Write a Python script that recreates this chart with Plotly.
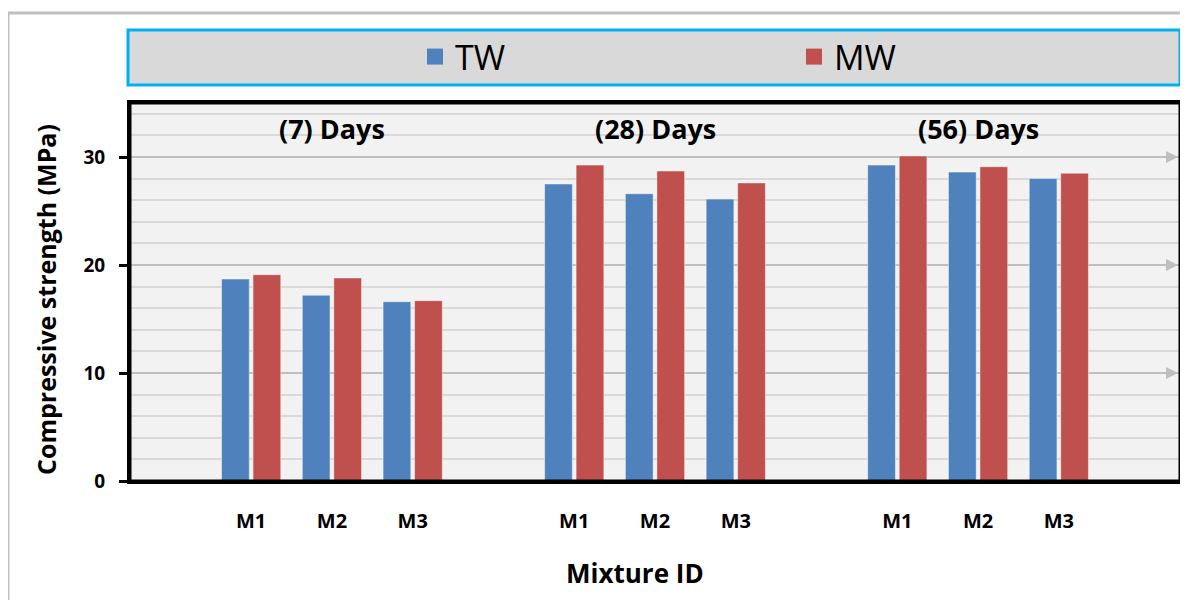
import plotly.graph_objects as go

# ---- data ----
day_groups = ["(7) Days", "(28) Days", "(56) Days"]
mixtures = ["M1", "M2", "M3"]
tw_values = [18.7, 17.2, 16.6, 27.5, 26.6, 26.1, 29.25, 28.6, 28.0]
mw_values = [19.1, 18.8, 16.7, 29.25, 28.7, 27.6, 30.1, 29.1, 28.5]
series_names = ["TW", "MW"]
series_colors = ["#4F81BD", "#C0504D"]
y_major_ticks = [0, 10, 20, 30]
y_title = "Compressive strength (MPa)"
x_title = "Mixture ID"

# slot positions: one blank slot before/between/after groups (Excel style)
x_pos = []
x_labels = []
for g, _ in enumerate(day_groups):
    for m, mix in enumerate(mixtures):
        x_pos.append(4 * g + m + 1)
        x_labels.append(mix)

FONT = "Open Sans"
OFF = 8  # browser body margin
W, H = 1180, 592
L, R, T, B = 122, 8, 95, 119
pw, ph = W - L - R, H - T - B


def px_x(p):  # page pixel -> paper x
    return (p - OFF - L) / pw


def px_y(p):  # page pixel -> paper y
    return (H - B - (p - OFF)) / ph


fig = go.Figure()
legend_ids = ["legend", "legend2"]
for name, vals, col, lg in zip(series_names, [tw_values, mw_values], series_colors, legend_ids):
    fig.add_trace(go.Bar(
        x=x_pos, y=vals, name=name, showlegend=False, legendgroup=name,
        marker=dict(color=col, line=dict(color="rgba(255,255,255,0.45)", width=1)),
    ))
    # legend proxy (larger square symbol)
    fig.add_trace(go.Scatter(
        x=[None], y=[None], mode="markers", name=name, legendgroup=name, legend=lg,
        marker=dict(symbol="square", size=22, color=col),
    ))

annotations = []
for g, label in enumerate(day_groups):
    annotations.append(dict(
        x=4 * g + 2, xref="x", y=px_y(128), yref="paper",
        text="<b>%s</b>" % label, showarrow=False,
        font=dict(family=FONT, size=27, color="black"),
        xanchor="center", yanchor="middle",
    ))
annotations.append(dict(
    x=px_x(635), xref="paper", y=px_y(573), yref="paper",
    text="<b>%s</b>" % x_title, showarrow=False,
    font=dict(family=FONT, size=26, color="black"),
    xanchor="center", yanchor="middle",
))
annotations.append(dict(
    x=px_x(46), xref="paper", y=px_y(300), yref="paper",
    text="<b>%s</b>" % y_title, showarrow=False, textangle=-90,
    font=dict(family=FONT, size=25, color="black"),
    xanchor="center", yanchor="middle",
))
# arrowheads at the right end of major gridlines
for v in y_major_ticks[1:]:
    annotations.append(dict(
        x=px_x(1180), xref="paper", y=v, yref="y", ax=-22, ay=0,
        text="", showarrow=True, arrowhead=2, arrowsize=1.2, arrowwidth=2,
        arrowcolor="#BFBFBF", standoff=2,
    ))

shapes = [
    # outer light frame
    dict(type="rect", xref="paper", yref="paper",
         x0=px_x(8), x1=px_x(1200), y0=px_y(620), y1=px_y(13),
         line=dict(color="#C0C0C0", width=3), fillcolor="rgba(0,0,0,0)", layer="below"),
    # legend box
    dict(type="rect", xref="paper", yref="paper",
         x0=px_x(128), x1=px_x(1180), y0=px_y(85), y1=px_y(30),
         line=dict(color="#00B0F0", width=3), fillcolor="#D9D9D9", layer="below"),
    # plot-area black frame
    dict(type="rect", xref="paper", yref="paper", x0=0, x1=1, y0=0, y1=1,
         line=dict(color="black", width=3), fillcolor="rgba(0,0,0,0)", layer="above"),
]

legend_common = dict(
    orientation="h", xanchor="left", yanchor="middle", y=px_y(57),
    bgcolor="rgba(0,0,0,0)", borderwidth=0, itemsizing="trace",
    font=dict(family=FONT, size=34, color="black"),
)

fig.update_layout(
    width=W, height=H,
    margin=dict(l=L, r=R, t=T, b=B),
    paper_bgcolor="white", plot_bgcolor="#F2F2F2",
    barmode="group", bargap=0.22, bargroupgap=0.12,
    font=dict(family=FONT, color="black"),
    showlegend=True,
    legend=dict(x=px_x(415), **legend_common),
    legend2=dict(x=px_x(794), **legend_common),
    annotations=annotations, shapes=shapes,
)

fig.update_xaxes(
    range=[-0.5, 12.5], tickvals=x_pos, ticktext=["<b>%s</b>" % t for t in x_labels],
    tickfont=dict(family=FONT, size=20, color="black"), ticks="",
    ticklabelstandoff=20, automargin=False,
    showgrid=False, zeroline=False,
    showline=True, mirror=True, linecolor="black", linewidth=3,
)
fig.update_yaxes(
    range=[0, 35], tickvals=y_major_ticks, ticktext=["<b>%d</b>" % v for v in y_major_ticks],
    tickfont=dict(family=FONT, size=19, color="black"),
    ticks="outside", ticklen=8, tickwidth=3, tickcolor="black",
    ticklabelstandoff=10,
    showgrid=True, gridcolor="#BFBFBF", gridwidth=2,
    minor=dict(dtick=2, tick0=0, showgrid=True, gridcolor="#D9D9D9", gridwidth=1.5, ticks=""),
    zeroline=False, automargin=False,
    showline=True, mirror=True, linecolor="black", linewidth=3,
)

fig.write_html("out.html")
